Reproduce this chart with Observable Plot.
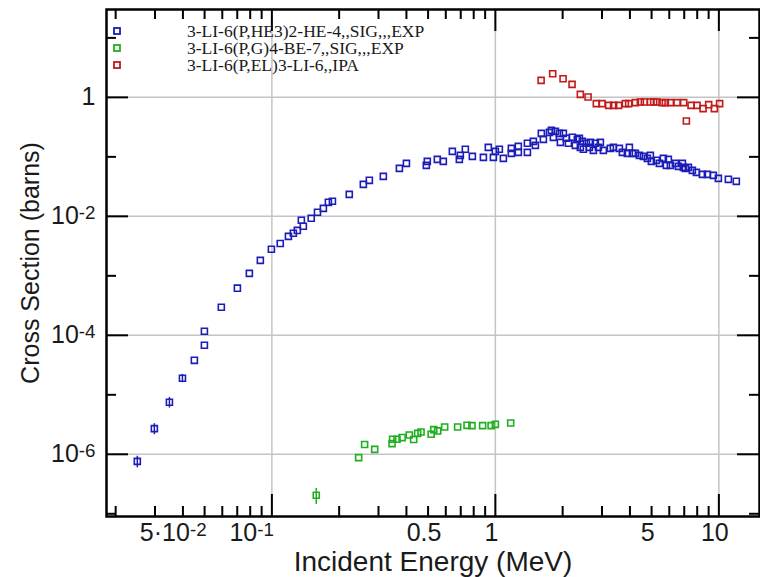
<!DOCTYPE html>
<html>
<head>
<meta charset="utf-8">
<script src="https://cdn.jsdelivr.net/npm/d3@7"></script>
<script src="https://cdn.jsdelivr.net/npm/@observablehq/plot@0.6"></script>
<style>
  html, body { margin: 0; padding: 0; background: #fff; }
  #wrap { position: relative; width: 760px; height: 577px; }
  #legend { position: absolute; left: 113px; top: 22.5px; font-family: "Liberation Serif", "Times New Roman", serif; font-size: 17.5px; color: #1a1a1a; }
  #legend .row { height: 17px; display: flex; align-items: center; white-space: nowrap; }
  #legend .lbl { display: inline-block; height: 15px; line-height: 15px; overflow: visible; }
  #legend svg { margin-right: 66px; flex: none; }
</style>
</head>
<body>
<div id="wrap"><div id="legend"></div></div>
<script>
// ---- Data ----
const seriesNames = ["3-LI-6(P,HE3)2-HE-4,,SIG,,,EXP", "3-LI-6(P,G)4-BE-7,,SIG,,,EXP", "3-LI-6(P,EL)3-LI-6,,IPA"];
const seriesColors = ["#1c1cb8", "#1fae1f", "#c21a1a"];

const blueE = [0.0250, 0.0298, 0.0348, 0.0398, 0.0450, 0.0499, 0.0499, 0.0594, 0.0701, 0.0793, 0.0888, 0.0995,
  0.109, 0.1186, 0.1248, 0.130, 0.1355, 0.1383, 0.150, 0.160, 0.170, 0.179, 0.1866, 0.222, 0.2566, 0.273, 0.3153, 0.372,
  0.400, 0.491, 0.496, 0.550, 0.585, 0.642, 0.690, 0.697, 0.734, 0.789, 0.884, 0.930, 0.980, 1.0, 1.042, 1.086,
  1.179, 1.179, 1.267, 1.267, 1.391, 1.391, 1.479, 1.510, 1.606, 1.640, 1.745, 1.781, 1.818, 1.856, 1.934, 1.954,
  2.015, 2.078, 2.122, 2.211, 2.280, 2.327, 2.376, 2.400, 2.450, 2.476, 2.554, 2.634, 2.661, 2.745, 2.802, 2.890,
  2.950, 3.042, 3.270, 3.373, 3.588, 3.701, 3.896, 3.977, 4.102, 4.231, 4.410, 4.596, 4.787, 4.937, 4.989, 5.253,
  5.418, 5.646, 5.824, 5.943, 6.067, 6.390, 6.590, 6.867, 6.939, 7.083, 7.305, 7.613, 7.934, 8.438, 8.884, 9.449,
  9.949, 11.03, 11.97];
const blueS = [7.6e-7, 2.7e-6, 7.5e-6, 1.9e-5, 3.8e-5, 6.8e-5, 1.17e-4, 2.96e-4, 6.2e-4, 1.1e-3, 1.82e-3, 2.8e-3,
  3.5e-3, 4.6e-3, 5.2e-3, 5.8e-3, 8.6e-3, 6.8e-3, 9.3e-3, 1.17e-2, 1.36e-2, 1.72e-2, 1.79e-2, 2.34e-2, 3.45e-2, 4.03e-2, 4.7e-2, 6.4e-2,
  0.0778, 0.072, 0.084, 0.0908, 0.084, 0.1237, 0.0908, 0.106, 0.134, 0.102, 0.098, 0.1445, 0.098, 0.1237, 0.134, 0.0944,
  0.1145, 0.139, 0.150, 0.119, 0.119, 0.169, 0.182, 0.156, 0.248, 0.197, 0.258, 0.279, 0.213, 0.268, 0.248, 0.175,
  0.248, 0.205, 0.169, 0.213, 0.156, 0.197, 0.205, 0.1445, 0.182, 0.134, 0.169, 0.1445, 0.175, 0.1286, 0.169, 0.1445,
  0.175, 0.1286, 0.139, 0.1445, 0.139, 0.119, 0.1145, 0.1445, 0.1145, 0.1145, 0.106, 0.102, 0.0944, 0.106, 0.084, 0.0874,
  0.0778, 0.0944, 0.072, 0.0908, 0.072, 0.0778, 0.0692, 0.0778, 0.0666, 0.0641, 0.0666, 0.0593, 0.0549, 0.0508, 0.0508, 0.0489,
  0.0435, 0.0419, 0.0388];
const blueErr = [0.22, 0.21, 0.20, 0.16]; // relative errors of the first points

const greenE = [0.158, 0.2445, 0.260, 0.2884, 0.345, 0.347, 0.363, 0.3825, 0.412, 0.431, 0.449, 0.465, 0.516, 0.530,
  0.552, 0.593, 0.678, 0.747, 0.786, 0.877, 0.957, 1.0, 1.171];
const greenS = [2.05e-7, 8.8e-7, 1.46e-6, 1.21e-6, 1.51e-6, 1.79e-6, 1.79e-6, 1.91e-6, 2.11e-6, 1.77e-6, 2.25e-6, 2.37e-6,
  2.17e-6, 2.60e-6, 2.47e-6, 2.88e-6, 2.88e-6, 3.07e-6, 3.03e-6, 3.03e-6, 3.03e-6, 3.19e-6, 3.36e-6];
const greenErr = [0.30];

const redE = [1.602, 1.805, 2.009, 2.204, 2.400, 2.599, 2.830, 3.002, 3.213, 3.383, 3.562, 3.817, 3.949, 4.231, 4.454,
  4.642, 4.937, 5.108, 5.290, 5.570, 5.764, 6.067, 6.501, 6.960, 7.156, 7.509, 7.987, 8.499, 9.003, 9.548, 10.08];
const redS = [1.93, 2.50, 2.06, 1.654, 1.123, 1.012, 0.784, 0.784, 0.734, 0.734, 0.734, 0.784, 0.784, 0.815, 0.834,
  0.834, 0.834, 0.834, 0.834, 0.815, 0.815, 0.815, 0.815, 0.815, 0.400, 0.734, 0.734, 0.646, 0.754, 0.646, 0.784];

const xTickValues = [0.05, 0.1, 0.5, 1, 5, 10];
const xTickLabels = ["5·10-2", "10-1", "0.5", "1", "5", "10"];
const yTickValues = [1e-6, 1e-4, 1e-2, 1];
const yTickLabels = ["10-6", "10-4", "10-2", "1"];
const xTitle = "Incident Energy (MeV)";
const yTitle = "Cross Section (barns)";

// ---- Layout ----
const W = 760, H = 577, mL = 106, mR = 1, mT = 9, mB = 61;
const pw = W - mL - mR, ph = H - mT - mB;
const xDomain = [0.0182, 15.2], yDomain = [9e-8, 30];

const rows = (E, S, err) => E.map((e, i) => ({e, s: S[i], err: err[i] ?? 0}));
const blue = rows(blueE, blueS, blueErr);
const green = rows(greenE, greenS, greenErr);
const red = rows(redE, redS, []);

const isDecade = v => Math.abs(Math.log10(v) - Math.round(Math.log10(v))) < 1e-6;
const xAll = d3.scaleLog().domain(xDomain).ticks();
const xMajor = xAll.filter(isDecade);
const xMinor = xAll.filter(v => !isDecade(v));
const yDec = d3.range(-7, 2).map(k => Math.pow(10, k));
const yMajor = yDec.filter(v => Math.round(Math.log10(v)) % 2 === 0);
const yMinor = yDec.filter(v => Math.round(Math.log10(v)) % 2 !== 0);

const tickStyle = {stroke: "#000", strokeWidth: 2};
const majLen = 22, minLen = 10;
const sup = new Set(["5·10-2", "10-1"]);
const xTicks = xTickValues.map((v, i) => ({v, label: xTickLabels[i], sup: sup.has(xTickLabels[i])}));
const yFmt = d => yTickLabels[yTickValues.findIndex(v => Math.abs(v - d) < 1e-9 * v)] ?? "";

const dotOpts = c => ({x: "e", y: "s", symbol: "square", r: 3.4, fill: "none", stroke: c, strokeWidth: 1.6});
const errOpts = c => ({x: "e", y1: d => d.s * (1 - d.err), y2: d => d.s * (1 + d.err), stroke: c, strokeWidth: 1.5});

const plot = Plot.plot({
  width: W, height: H,
  marginLeft: mL, marginRight: mR, marginTop: mT, marginBottom: mB,
  style: {fontFamily: "'Liberation Sans', Arial, Helvetica, sans-serif", color: "#1a1a1a", background: "#fff"},
  x: {type: "log", domain: xDomain, axis: null},
  y: {type: "log", domain: yDomain},
  marks: [
    Plot.gridX(xMajor, {stroke: "#c4c4c4", strokeOpacity: 1, strokeWidth: 1.5}),
    Plot.gridY(yMajor, {stroke: "#c4c4c4", strokeOpacity: 1, strokeWidth: 1.5}),
    // bottom & top ticks (inward)
    Plot.ruleX(xMajor, {x: d => d, insetTop: ph - majLen, ...tickStyle}),
    Plot.ruleX(xMinor, {x: d => d, insetTop: ph - minLen, ...tickStyle}),
    Plot.ruleX(xMajor, {x: d => d, insetBottom: ph - majLen, ...tickStyle}),
    Plot.ruleX(xMinor, {x: d => d, insetBottom: ph - minLen, ...tickStyle}),
    // left & right ticks (inward)
    Plot.ruleY(yMajor, {y: d => d, insetRight: pw - majLen, ...tickStyle}),
    Plot.ruleY(yMinor, {y: d => d, insetRight: pw - minLen, ...tickStyle}),
    Plot.ruleY(yMajor, {y: d => d, insetLeft: pw - majLen, ...tickStyle}),
    Plot.ruleY(yMinor, {y: d => d, insetLeft: pw - minLen, ...tickStyle}),
    Plot.frame({stroke: "#000", strokeWidth: 2.5}),
    // x tick labels
    Plot.text(xTicks.filter(d => !d.sup), {x: "v", text: "label", frameAnchor: "bottom", lineAnchor: "top", dy: 7, dx: -4, fontSize: 25}),
    Plot.text(xTicks.filter(d => d.sup), {x: "v", text: "label", frameAnchor: "bottom", lineAnchor: "top", textAnchor: "end", dy: 7, dx: 2, fontSize: 25}),
    Plot.axisY({ticks: yTickValues, tickSize: 0, tickPadding: 11, tickFormat: yFmt, fontSize: 25, label: null}),
    Plot.text([xTitle], {text: d => d, frameAnchor: "bottom", lineAnchor: "middle", dy: 46, fontSize: 28}),
    Plot.text([yTitle], {text: d => d, frameAnchor: "left", textAnchor: "middle", lineAnchor: "middle", dx: -76, rotate: -90, fontSize: 25}),
    Plot.ruleX(blue.filter(d => d.err > 0), errOpts(seriesColors[0])),
    Plot.ruleX(green.filter(d => d.err > 0), errOpts(seriesColors[1])),
    Plot.dot(blue, dotOpts(seriesColors[0])),
    Plot.dot(green, dotOpts(seriesColors[1])),
    Plot.dot(red, dotOpts(seriesColors[2]))
  ]
});

// superscript exponents in tick labels
plot.querySelectorAll("text").forEach(t => {
  const m = (t.textContent || "").match(/^(.*10)(-\d+)$/);
  if (!m) return;
  while (t.firstChild) t.removeChild(t.firstChild);
  t.appendChild(document.createTextNode(m[1]));
  const ts = document.createElementNS("http://www.w3.org/2000/svg", "tspan");
  ts.setAttribute("font-size", "0.75em");
  ts.setAttribute("dy", "-0.3em");
  ts.textContent = m[2];
  t.appendChild(ts);
});

const wrap = document.getElementById("wrap");
wrap.insertBefore(plot, wrap.firstChild);

const NS = "http://www.w3.org/2000/svg";
const legend = document.getElementById("legend");
seriesNames.forEach((name, i) => {
  const row = document.createElement("div");
  row.className = "row";
  const s = document.createElementNS(NS, "svg");
  s.setAttribute("width", "8"); s.setAttribute("height", "8");
  const r = document.createElementNS(NS, "rect");
  r.setAttribute("x", "1"); r.setAttribute("y", "1"); r.setAttribute("width", "6"); r.setAttribute("height", "6");
  r.setAttribute("fill", "none"); r.setAttribute("stroke", seriesColors[i]); r.setAttribute("stroke-width", "1.8");
  s.appendChild(r);
  row.appendChild(s);
  const lbl = document.createElement("span");
  lbl.className = "lbl";
  lbl.textContent = name;
  row.appendChild(lbl);
  legend.appendChild(row);
});
</script>
</body>
</html>
